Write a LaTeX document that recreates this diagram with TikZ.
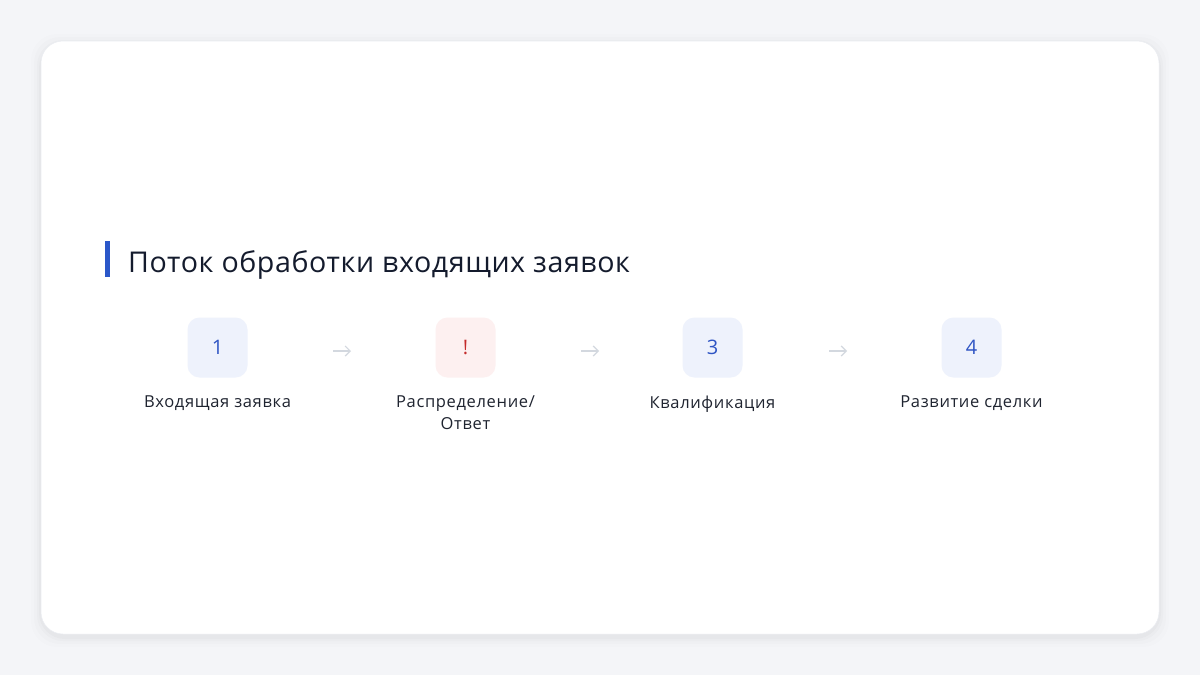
\documentclass[tikz,border=0pt]{standalone}
\usepackage{fontspec}
\setmainfont{Open Sans}
\definecolor{pagebg}{HTML}{F4F5F8}
\definecolor{cardedge}{HTML}{EAECF1}
\definecolor{accent}{HTML}{2B57C9}
\definecolor{titlec}{HTML}{141B2D}
\definecolor{labelc}{HTML}{1F2430}
\definecolor{bluebox}{HTML}{EEF2FC}
\definecolor{redbox}{HTML}{FDF0F0}
\definecolor{bluenum}{HTML}{2F55C4}
\definecolor{rednum}{HTML}{C42B2B}
\definecolor{arrowc}{HTML}{D3D8DF}
\tikzset{
  stepbox/.style={rounded corners=12pt, minimum width=60pt, minimum height=60pt, inner sep=0pt, font=\fontsize{20}{24}\selectfont},
  bluestep/.style={stepbox, fill=bluebox, text=bluenum},
  redstep/.style={stepbox, fill=redbox, text=rednum},
  steplabel/.style={font=\fontsize{16.5}{22}\selectfont\addfontfeature{LetterSpace=4}, text=labelc, align=center, anchor=north},
  flowarrow/.style={draw=arrowc, line width=1.2pt, -{Straight Barb[length=5pt,width=10pt]}},
}
\usetikzlibrary{arrows.meta}
\begin{document}
\begin{tikzpicture}[x=1pt,y=-1pt]
\useasboundingbox (0,0) rectangle (1200,675);
\fill[pagebg] (0,0) rectangle (1200,675);
% soft shadow
\foreach \i/\o in {10/0.008,7/0.012,4/0.016,2/0.02}{
  \fill[black, opacity=\o, rounded corners=26pt] (41-\i,41-\i+3) rectangle (1159+\i,634+\i+3);
}
\filldraw[fill=white, draw=cardedge, line width=0.5pt, rounded corners=22pt] (41,41) rectangle (1159,634);
% title
\fill[accent] (105,241) rectangle (109.5,277);
\node[anchor=base west, inner sep=0pt, text=titlec, font=\fontsize{28.6}{34}\selectfont\addfontfeature{LetterSpace=2}] (title) at (128,272) {Поток обработки входящих заявок};
% steps
\node[bluestep] (s1) at (217.5,347.5) {1};
\node[redstep]  (s2) at (465.5,347.5) {!};
\node[bluestep] (s3) at (712.5,347.5) {3};
\node[bluestep] (s4) at (971.5,347.5) {4};
\node[steplabel] (l1) at (217.5,392) {Входящая заявка};
\node[steplabel] (l2) at (465.5,392) {Распределение/\\Ответ};
\node[steplabel] (l3) at (712.5,392) {Квалификация};
\node[steplabel] (l4) at (971.5,392) {Развитие сделки};
% arrows
\coordinate (a1s) at (333,351); \coordinate (a1e) at (351,351);
\coordinate (a2s) at (581,351); \coordinate (a2e) at (599,351);
\coordinate (a3s) at (829,351); \coordinate (a3e) at (847,351);
\draw[flowarrow] (a1s) -- (a1e);
\draw[flowarrow] (a2s) -- (a2e);
\draw[flowarrow] (a3s) -- (a3e);
\end{tikzpicture}
\end{document}
